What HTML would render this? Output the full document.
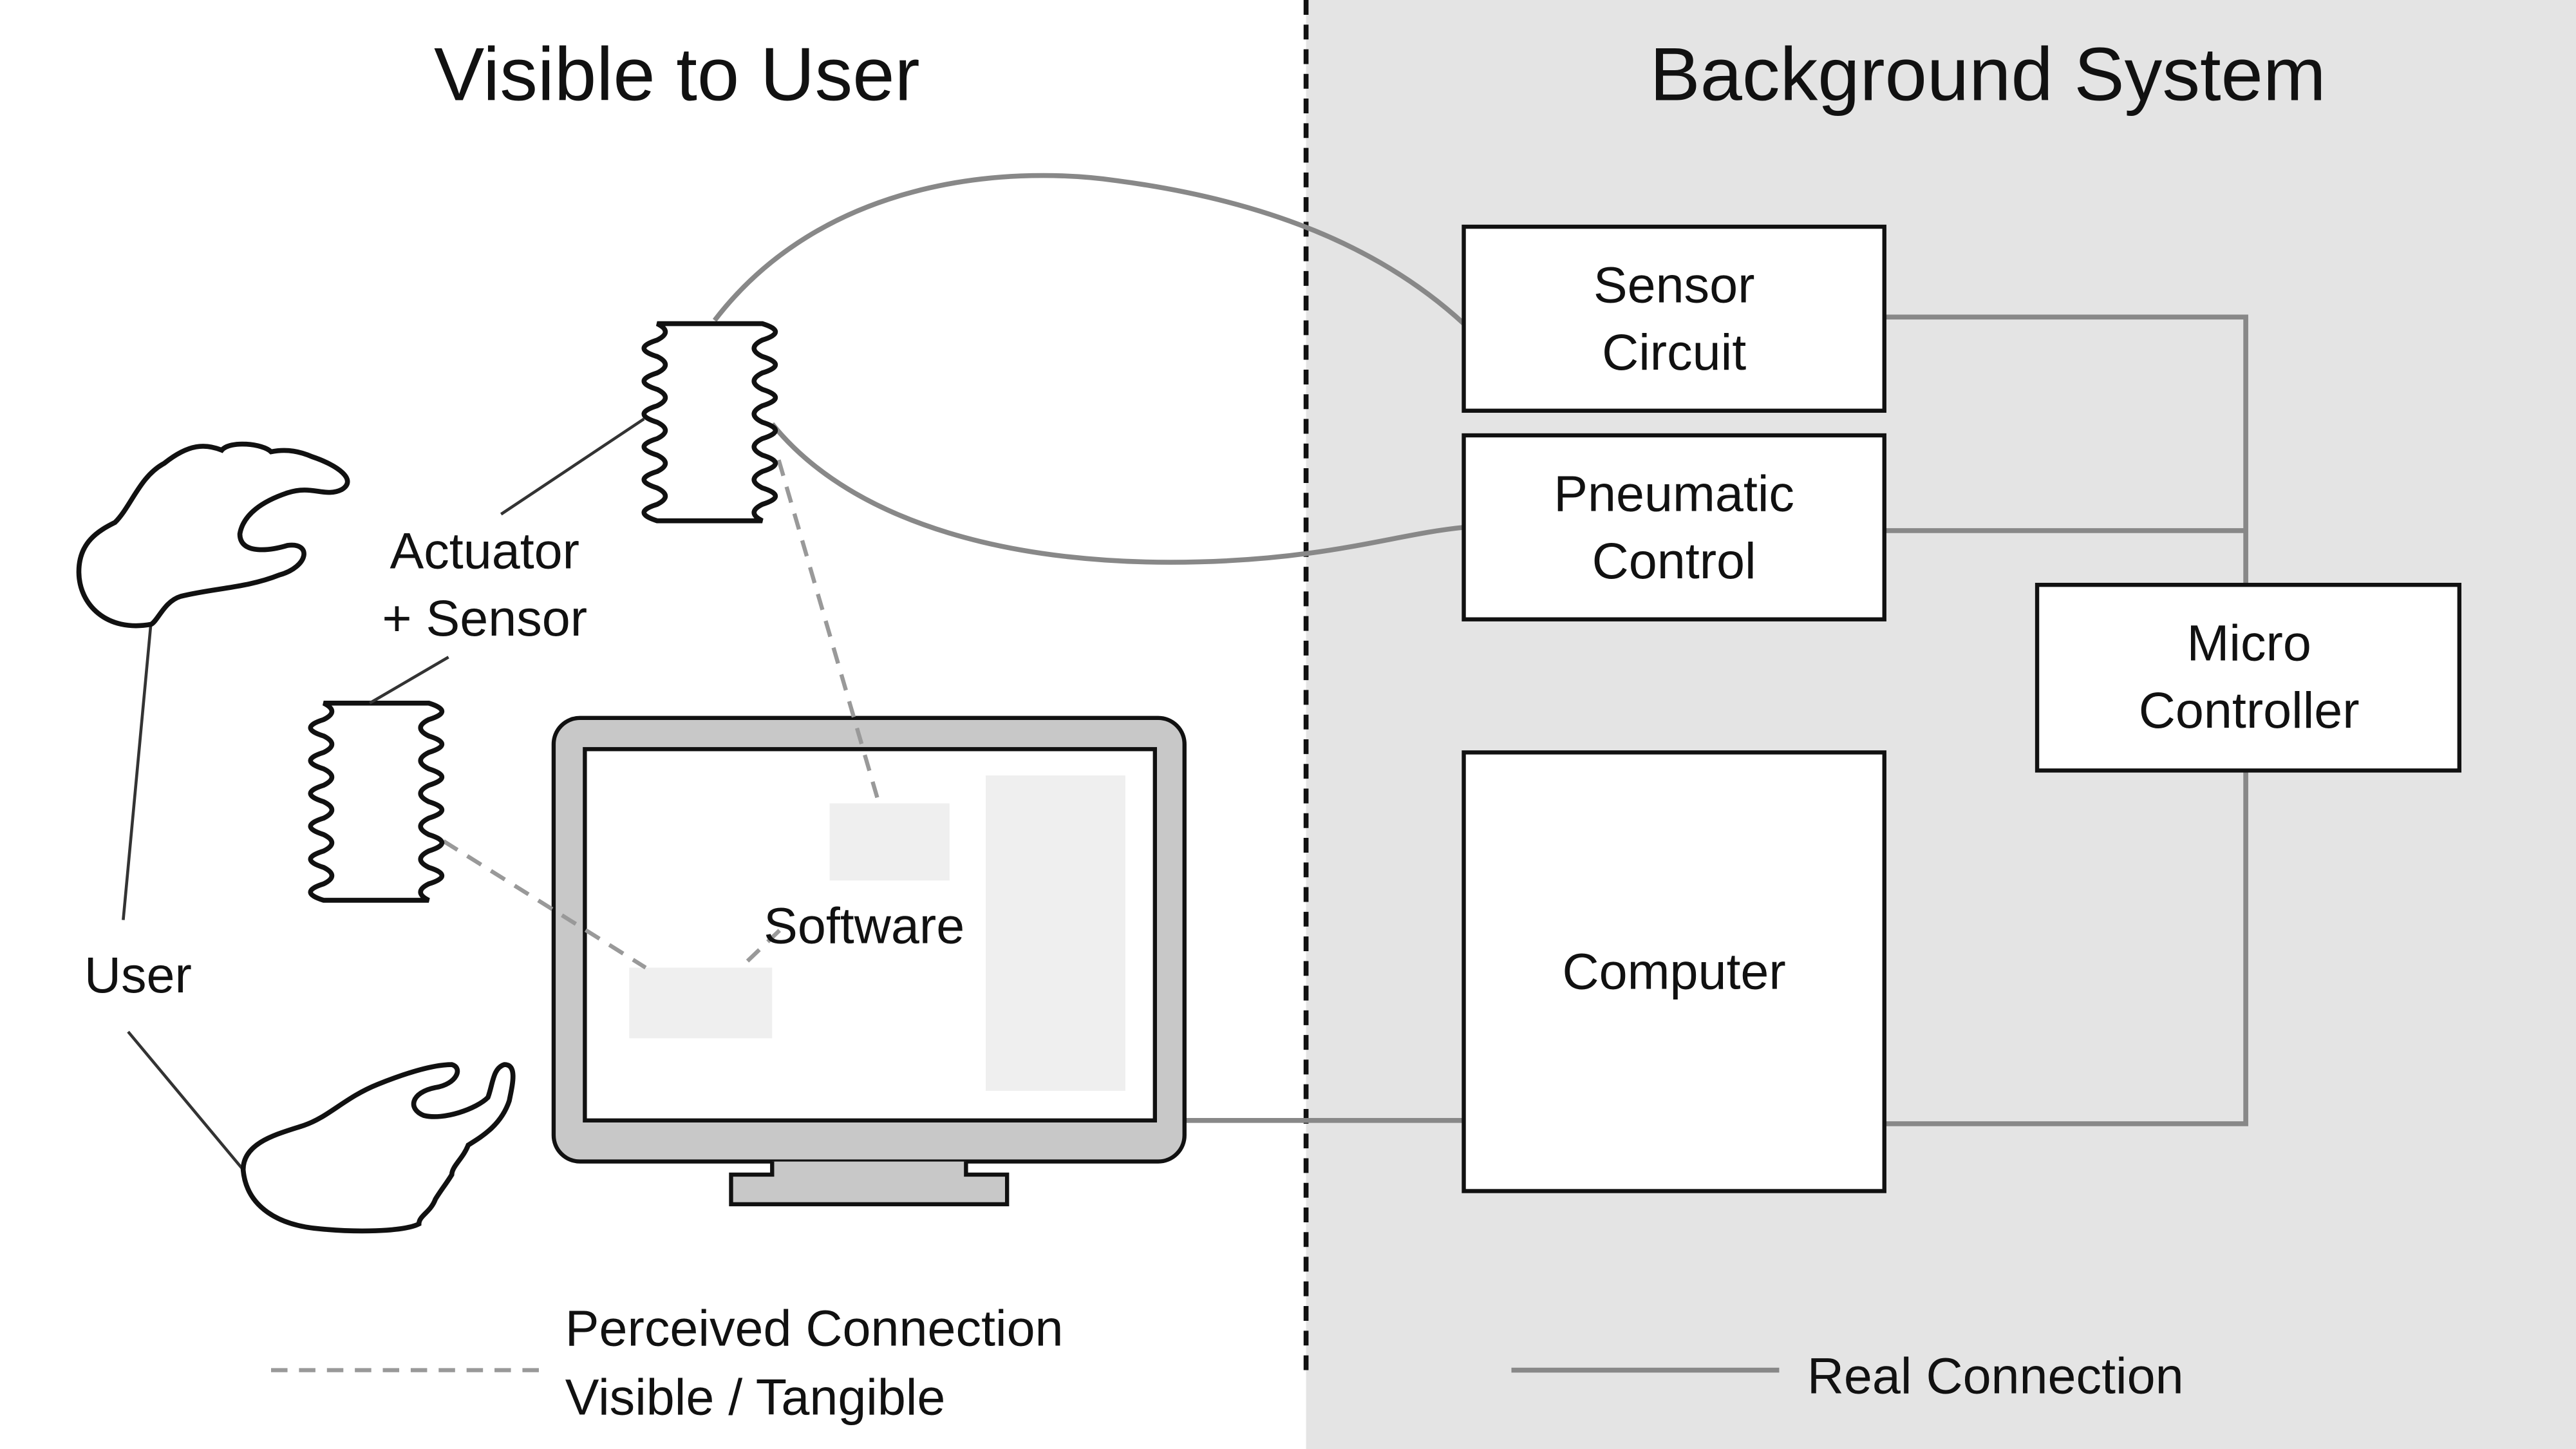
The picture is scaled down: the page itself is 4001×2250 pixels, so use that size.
<!DOCTYPE html>
<html><head><meta charset="utf-8"><style>
html,body{margin:0;padding:0;background:#fff}
svg{display:block}
text{font-family:"Liberation Sans",sans-serif;fill:#111}
</style></head><body>
<svg width="4001" height="2250" viewBox="0 0 1568 882" preserveAspectRatio="none" xmlns="http://www.w3.org/2000/svg">
<rect x="0" y="0" width="1568" height="882" fill="#fff"/>
<rect x="795" y="0" width="773" height="882" fill="#e4e4e4"/>
<line x1="795" y1="0" x2="795" y2="835" stroke="#111" stroke-width="3" stroke-dasharray="9,6"/>
<text x="412" y="61" font-size="46" text-anchor="middle">Visible to User</text>
<text x="1210" y="61" font-size="46" text-anchor="middle">Background System</text>

<g fill="none" stroke="#888" stroke-width="3">
<polyline points="1147,193 1367,193 1367,356"/>
<line x1="1147" y1="323" x2="1367" y2="323"/>
<polyline points="1367,469 1367,684 1147,684"/>
<line x1="720" y1="682" x2="891" y2="682"/>
<path d="M435,195 C500,110 610,100 680,110 C770,122 840,150 891,197"/>
<path d="M470,258 C520,320 620,345 730,342 C810,340 850,325 891,321"/>
</g>

<g fill="#fff" stroke="#111" stroke-width="2.5">
<rect x="891" y="138" width="256" height="112"/>
<rect x="891" y="265" width="256" height="112"/>
<rect x="1240" y="356" width="257" height="113"/>
<rect x="891" y="458" width="256" height="267"/>
</g>
<g font-size="31" text-anchor="middle">
<text x="1019" y="184">Sensor</text><text x="1019" y="225">Circuit</text>
<text x="1019" y="311">Pneumatic</text><text x="1019" y="352">Control</text>
<text x="1369" y="402">Micro</text><text x="1369" y="443">Controller</text>
<text x="1019" y="602">Computer</text>
</g>

<rect x="337" y="437" width="384" height="270" rx="16" fill="#c8c8c8" stroke="#111" stroke-width="2.5"/>
<rect x="356" y="456" width="347" height="226" fill="#fff" stroke="#111" stroke-width="2.5"/>
<path d="M470,707 v8 h-25 v18 h168 v-18 h-25 v-8" fill="#c8c8c8" stroke="#111" stroke-width="2.5"/>
<rect x="505" y="489" width="73" height="47" fill="#efefef"/>
<rect x="383" y="589" width="87" height="43" fill="#efefef"/>
<rect x="600" y="472" width="85" height="192" fill="#efefef"/>

<g fill="none" stroke="#999" stroke-width="2.5" stroke-dasharray="10,7">
<line x1="474" y1="280" x2="535" y2="489"/>
<line x1="270" y1="512" x2="393" y2="589"/>
<line x1="455" y1="585" x2="478" y2="563"/>
</g>
<text x="526" y="574" font-size="31" text-anchor="middle">Software</text>

<g fill="#fff" stroke="#111" stroke-width="3">
<path d="M400,197 h64 q16,5 0,10 q-10,5 0,10 q16,5 0,10 q-10,5 0,10 q16,5 0,10 q-10,5 0,10 q16,5 0,10 q-10,5 0,10 q16,5 0,10 q-10,5 0,10 q16,5 0,10 q-10,5 0,10 h-64 q-16,-5 0,-10 q10,-5 0,-10 q-16,-5 0,-10 q10,-5 0,-10 q-16,-5 0,-10 q10,-5 0,-10 q-16,-5 0,-10 q10,-5 0,-10 q-16,-5 0,-10 q10,-5 0,-10 q-16,-5 0,-10 q10,-5 0,-10 z"/>
<path d="M197,428 h64 q16,5 0,10 q-10,5 0,10 q16,5 0,10 q-10,5 0,10 q16,5 0,10 q-10,5 0,10 q16,5 0,10 q-10,5 0,10 q16,5 0,10 q-10,5 0,10 q16,5 0,10 q-10,5 0,10 h-64 q-16,-5 0,-10 q10,-5 0,-10 q-16,-5 0,-10 q10,-5 0,-10 q-16,-5 0,-10 q10,-5 0,-10 q-16,-5 0,-10 q10,-5 0,-10 q-16,-5 0,-10 q10,-5 0,-10 q-16,-5 0,-10 q10,-5 0,-10 z"/>
</g>
<g stroke="#333" stroke-width="1.8" fill="none">
<line x1="305" y1="313" x2="392" y2="255"/>
<line x1="225" y1="428" x2="273" y2="400"/>
<line x1="92" y1="378" x2="75" y2="560"/>
<line x1="78" y1="628" x2="148" y2="712"/>
</g>
<text x="295" y="346" font-size="31" text-anchor="middle">Actuator</text>
<text x="295" y="387" font-size="31" text-anchor="middle">+ Sensor</text>
<text x="84" y="604" font-size="31" text-anchor="middle">User</text>

<g fill="#fff" stroke="#111" stroke-width="3">
<path d="M92,380 C65,385 48,368 48,348 C48,330 60,323 70,318 C80,308 85,290 100,282 C115,270 125,270 135,274 C140,268 160,270 165,275 C175,273 183,275 190,278 C205,283 218,292 208,298 C198,303 190,295 175,300 C160,305 148,313 146,325 C146,338 165,335 175,332 C190,330 188,345 170,350 C150,358 130,358 110,363 C100,366 96,378 92,380 Z"/>
<path d="M148,712 C148,695 170,690 185,685 C200,680 210,668 230,660 C250,652 265,648 275,648 C282,650 278,660 265,662 C250,665 248,675 258,679 C270,682 290,675 297,668 C300,660 300,650 307,648 C315,648 312,660 310,670 C305,685 293,692 285,697 C282,705 275,710 275,715 C272,720 268,725 265,730 C262,738 255,740 255,745 C245,750 215,750 195,748 C170,746 150,735 148,712 Z"/>
</g>

<line x1="165" y1="834" x2="330" y2="834" stroke="#999" stroke-width="2.5" stroke-dasharray="10,7"/>
<text x="344" y="819" font-size="31">Perceived Connection</text>
<text x="344" y="861" font-size="31">Visible / Tangible</text>
<line x1="920" y1="834" x2="1083" y2="834" stroke="#888" stroke-width="3"/>
<text x="1100" y="848" font-size="31">Real Connection</text>
</svg>
</body></html>
